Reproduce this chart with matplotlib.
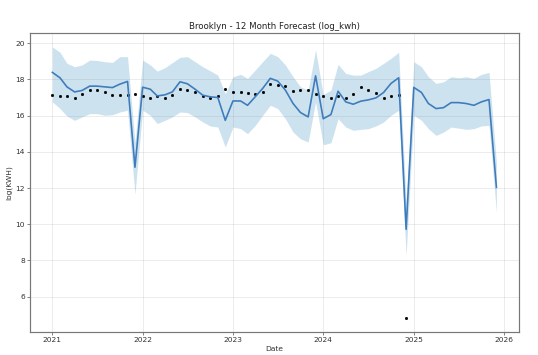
import pandas as pd
import matplotlib
matplotlib.use("Agg")
from matplotlib import pyplot as plt

# monthly actuals (log kwh), Jan 2021 - Dec 2024
actual = [17.13, 17.06, 17.09, 17.00, 17.22, 17.44, 17.44, 17.33, 17.15, 17.15, 17.13, 17.20,
          17.09, 17.00, 17.07, 17.00, 17.15, 17.48, 17.44, 17.31, 17.07, 16.98, 17.09, 17.46,
          17.30, 17.30, 17.24, 17.20, 17.33, 17.74, 17.70, 17.61, 17.35, 17.39, 17.41, 17.17,
          17.07, 17.00, 17.09, 16.98, 17.22, 17.56, 17.41, 17.26, 17.00, 17.09, 17.13, 4.82]

# forecast, Jan 2021 - Dec 2025
yhat = [18.39, 18.09, 17.59, 17.31, 17.39, 17.63, 17.63, 17.59, 17.55, 17.74, 17.89, 13.15,
        17.57, 17.46, 17.09, 17.15, 17.31, 17.87, 17.76, 17.46, 17.13, 17.04, 17.00, 15.74,
        16.81, 16.81, 16.57, 17.04, 17.50, 18.06, 17.91, 17.41, 16.67, 16.17, 15.93, 18.20,
        15.83, 16.06, 17.35, 16.76, 16.63, 16.80, 16.87, 16.98, 17.28, 17.78, 18.09, 9.72,
        17.56, 17.28, 16.67, 16.39, 16.44, 16.72, 16.72, 16.67, 16.57, 16.76, 16.89, 12.04]

yhat_upper = [19.80, 19.50, 18.89, 18.70, 18.80, 19.07, 19.05, 18.98, 18.94, 19.26, 19.26, 14.50,
              19.07, 18.80, 18.46, 18.65, 18.93, 19.22, 19.26, 18.98, 18.70, 18.48, 18.24, 17.20,
              18.15, 18.28, 18.06, 18.52, 18.98, 19.44, 19.26, 18.80, 18.15, 17.59, 17.41, 19.63,
              17.17, 17.41, 18.83, 18.33, 18.24, 18.24, 18.43, 18.61, 18.89, 19.17, 19.50, 11.20,
              18.98, 18.70, 18.15, 17.78, 17.87, 18.15, 18.09, 18.15, 18.06, 18.28, 18.39, 13.40]

yhat_lower = [16.76, 16.39, 15.98, 15.74, 15.93, 16.11, 16.11, 16.02, 16.05, 16.20, 16.30, 11.67,
              16.30, 16.02, 15.56, 15.74, 15.93, 16.20, 16.17, 15.93, 15.65, 15.43, 15.37, 14.26,
              15.37, 15.28, 15.00, 15.46, 16.02, 16.57, 16.39, 15.83, 15.09, 14.72, 14.54, 16.76,
              14.39, 14.50, 15.83, 15.37, 15.19, 15.24, 15.28, 15.43, 15.65, 16.02, 16.30, 8.28,
              16.02, 15.74, 15.28, 14.91, 15.09, 15.37, 15.31, 15.24, 15.28, 15.43, 15.46, 10.65]

hist_dates = pd.date_range("2021-01-01", periods=len(actual), freq="MS")
fcst_dates = pd.date_range("2021-01-01", periods=len(yhat), freq="MS")

# prophet-style plot, 1000x660 scaled down to 538x355
fig = plt.figure(figsize=(10, 6.6), dpi=53.8)
ax = fig.add_subplot(111)
fig.subplots_adjust(left=0.056, right=0.964, bottom=0.066, top=0.906)

ax.plot(hist_dates, actual, "k.", markersize=6)
ax.plot(fcst_dates, yhat, ls="-", c="#3f7cbc", lw=2.2)
ax.fill_between(fcst_dates, yhat_lower, yhat_upper, color="#0072B2", alpha=0.2, lw=0)
ax.grid(True, which="major", c="gray", ls="-", lw=1, alpha=0.2)

for s in ax.spines.values():
    s.set_color("#777777")
    s.set_linewidth(1.6)
ax.tick_params(colors="#333333", labelsize=10)

ax.set_xlabel("Date", color="#333333")
ax.set_ylabel("log(KWH)", color="#333333")
ax.set_title("Brooklyn - 12 Month Forecast (log_kwh)", fontsize=11.5, color="#222222")

fig.savefig("out.png", dpi=53.8)
